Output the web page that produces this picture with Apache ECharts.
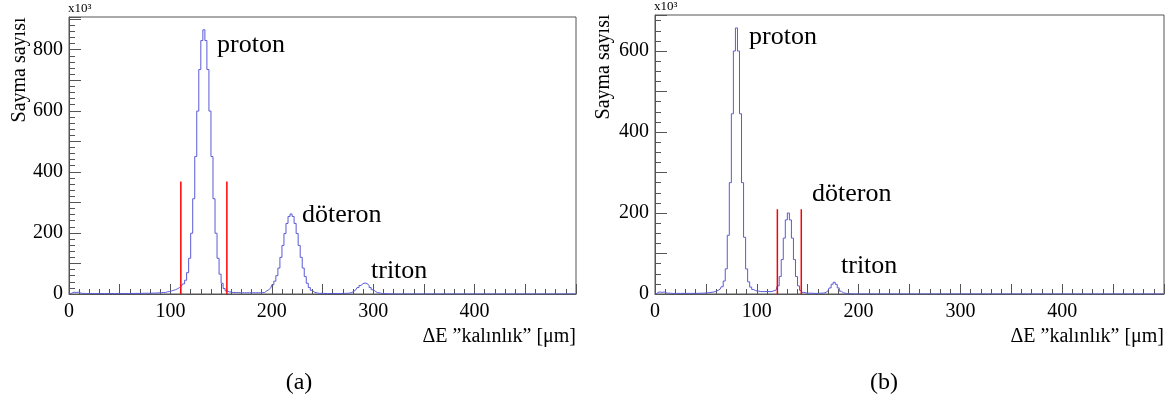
<!DOCTYPE html>
<html>
<head>
<meta charset="utf-8">
<script src="https://cdn.jsdelivr.net/npm/echarts@6/dist/echarts.min.js"></script>
<style>
html, body { margin: 0; background: #fff; }
#main { width: 1176px; height: 403px; }
</style>
</head>
<body>
<div id="main"></div>
<script>
// panel (a): bin centre [um] and counts [x10^3]
var xA = [1, 3, 5, 7, 9, 11, 13, 17, 25, 35, 45, 55, 65, 75, 83, 89, 93, 97, 99, 101,
  103, 105, 107, 109, 111, 113, 115, 117, 119, 121, 123, 125, 127, 129, 131, 133,
  135, 137, 139, 141, 143, 145, 147, 149, 151, 153, 155, 157, 159, 161,
  163, 167, 171, 175, 181, 187, 191, 195, 197, 199,
  201, 203, 205, 207, 209, 211, 213, 215, 217, 219, 221, 223, 225, 227, 229, 231,
  233, 235, 237, 239, 241, 243, 247, 255, 265, 271, 275,
  277, 279, 281, 283, 285, 287, 289, 291, 293, 295, 297, 299, 301, 303, 305, 309, 315, 321, 499];
var yA = [0, 3, 6, 5, 6, 4, 2, 1.5, 1.5, 1.5, 1.5, 1.5, 2, 2.5, 3, 4, 5, 7, 8, 10,
  12, 14, 17, 21, 26, 33, 45, 70, 117, 199, 312, 450, 599, 735, 830, 865,
  830, 735, 599, 450, 312, 199, 117, 65, 35, 18, 10, 7, 6, 5,
  5, 4.5, 4, 4, 4, 4, 5, 10, 14, 20,
  30, 42, 60, 85, 120, 159, 198, 231, 254, 262, 254, 231, 198, 159, 120, 85,
  57, 35, 21, 12, 6, 3, 2, 1.5, 1.5, 2, 2.5,
  3, 5, 9, 14, 21, 28, 34, 36, 34, 28, 21, 14, 9, 5, 3, 1.5, 0.5, 0, 0];
var cutsA = [110.3, 155.7];
var cutTopA = 368;
var yMaxA = 907;

// panel (b)
var xB = [1, 3, 5, 7, 9, 11, 13, 17, 25, 35, 45, 51, 55, 58,
  60, 62, 64, 66, 68, 70, 72, 74, 76, 78, 80, 82, 84, 86, 88, 90, 92, 94, 96, 98, 100,
  104, 108, 112, 116,
  119, 121, 123, 125, 127, 129, 131, 133, 135, 137, 139, 141, 143, 145, 147, 151, 157, 162,
  166, 168, 170, 172, 174, 176, 178, 180, 182, 184, 186, 190, 196, 499];
var yB = [0, 4, 5, 4, 5, 3, 2, 1.5, 1.5, 1.5, 2, 3, 4, 5,
  7, 9, 12, 18, 32, 62, 145, 275, 445, 600, 657, 600, 445, 275, 140, 62, 30, 17, 11, 8, 7,
  6, 6, 6, 7,
  10, 20, 43, 85, 138, 183, 200, 183, 138, 85, 43, 20, 9, 4, 2.5, 2, 1.5, 2,
  2.5, 4, 8, 15, 24, 29, 24, 15, 7, 3, 1.5, 0.5, 0, 0];
var cutsB = [120.2, 143.7];
var cutTopB = 209;
var yMaxB = 689;

var peakNames = ['proton', 'döteron', 'triton'];
var xTitle = 'ΔE ”kalınlık” [μm]';
var yTitle = 'Sayma sayısı';

var serif = '"Liberation Serif", "Times New Roman", serif';
var frameCol = '#555';

function pairs(xs, ys) {
  return xs.map(function (x, i) { return [x, ys[i]]; });
}

function xAxisCfg(idx) {
  return {
    type: 'value', gridIndex: idx, min: 0, max: 500, interval: 50,
    axisLine: { lineStyle: { color: frameCol } },
    axisTick: { inside: true, length: 10, lineStyle: { color: frameCol } },
    minorTick: { show: true, splitNumber: 5, length: 5, lineStyle: { color: frameCol } },
    splitLine: { show: false },
    axisLabel: {
      margin: 8, fontFamily: serif, fontSize: 20, color: '#000',
      formatter: function (v) { return (v % 100 === 0 && v < 500) ? v : ''; }
    }
  };
}

function yAxisCfg(idx, max, minorSplit) {
  return {
    type: 'value', gridIndex: idx, min: 0, max: max, interval: 100,
    axisLine: { show: true, lineStyle: { color: frameCol } },
    axisTick: { show: true, inside: true, length: 12, lineStyle: { color: frameCol } },
    minorTick: { show: true, splitNumber: minorSplit, length: 6, lineStyle: { color: frameCol } },
    splitLine: { show: false },
    axisLabel: {
      margin: 6, fontFamily: serif, fontSize: 20, color: '#000',
      formatter: function (v) { return v % 200 === 0 ? v : ''; }
    }
  };
}

function histSeries(idx, xs, ys) {
  return {
    type: 'line', xAxisIndex: idx, yAxisIndex: idx, step: 'middle',
    showSymbol: false, symbol: 'none', animation: false,
    lineStyle: { color: '#5a5ad8', width: 1 },
    data: pairs(xs, ys)
  };
}

function cutSeries(idx, x, top) {
  return {
    type: 'line', xAxisIndex: idx, yAxisIndex: idx,
    showSymbol: false, symbol: 'none', animation: false,
    lineStyle: { color: '#ff0000', width: 1.5 },
    data: [[x, 0], [x, top]]
  };
}

function txt(x, y, text, size, align, extra) {
  var el = {
    type: 'text', x: x, y: y,
    style: {
      text: text, font: size + 'px ' + serif, fill: '#000',
      align: align, verticalAlign: 'middle',
      textAlign: align, textVerticalAlign: 'middle'
    }
  };
  if (extra) { for (var k in extra) el[k] = extra[k]; }
  return el;
}

var chart = echarts.init(document.getElementById('main'), null, { renderer: 'canvas' });

var series = [histSeries(0, xA, yA), histSeries(1, xB, yB)];
cutsA.forEach(function (x) { series.push(cutSeries(0, x, cutTopA)); });
cutsB.forEach(function (x) { series.push(cutSeries(1, x, cutTopB)); });

var option = {
  backgroundColor: '#fff',
  animation: false,
  grid: [
    { left: 69, right: 600, top: 17, bottom: 109, show: true, borderColor: frameCol, borderWidth: 1 },
    { left: 655, right: 12, top: 15, bottom: 109, show: true, borderColor: frameCol, borderWidth: 1 }
  ],
  xAxis: [xAxisCfg(0), xAxisCfg(1)],
  yAxis: [yAxisCfg(0, yMaxA, 5), yAxisCfg(1, yMaxB, 4)],
  series: series,
  graphic: [
    // panel (a)
    txt(217, 45, peakNames[0], 26, 'left'),
    txt(302, 215, peakNames[1], 26, 'left'),
    txt(371, 271, peakNames[2], 26, 'left'),
    txt(576, 337, xTitle, 20, 'right'),
    txt(20, 70, yTitle, 20, 'center', { rotation: Math.PI / 2 }),
    txt(68, 9, 'x10³', 13, 'left'),
    txt(299, 383, '(a)', 24, 'center'),
    // panel (b)
    txt(749, 37, peakNames[0], 26, 'left'),
    txt(812, 194, peakNames[1], 26, 'left'),
    txt(841, 266, peakNames[2], 26, 'left'),
    txt(1164, 337, xTitle, 20, 'right'),
    txt(604, 67, yTitle, 20, 'center', { rotation: Math.PI / 2 }),
    txt(654, 7, 'x10³', 13, 'left'),
    txt(884, 383, '(b)', 24, 'center')
  ]
};

chart.setOption(option);
</script>
</body>
</html>
